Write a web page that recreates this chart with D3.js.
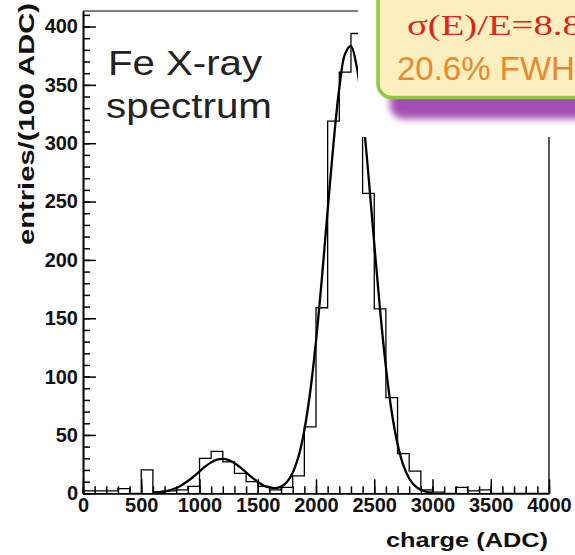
<!DOCTYPE html>
<html>
<head>
<meta charset="utf-8">
<script src="https://cdn.jsdelivr.net/npm/d3@7"></script>
<style>
  html, body { margin: 0; padding: 0; background: #fff; }
  svg { display: block; }
</style>
</head>
<body>
<svg id="chart" width="575" height="555"></svg>
<script>
// Histogram: 40 bins of 100 ADC from 0 to 4000
const binWidth = 100;
const binCounts = [
  2, 2, 2, 4, 0, 20, 1, 2, 3, 6,
  30, 36, 27, 17, 10, 6, 3, 5, 15, 57,
  159, 319, 361, 394, 257, 158, 82, 34, 19, 3,
  1, 0, 5, 2, 3, 0, 0, 0, 0, 0
];

// Fitted curve (two peaks), sampled every 50 ADC
const fitCharge = [
  600, 650, 700, 750, 800, 850, 900, 950, 1000, 1050,
  1100, 1150, 1200, 1250, 1300, 1350, 1400, 1450, 1500, 1550,
  1600, 1650, 1700, 1750, 1800, 1850, 1900, 1950, 2000, 2050,
  2100, 2150, 2200, 2250, 2300, 2350, 2400, 2450, 2500, 2550,
  2600, 2650, 2700, 2750, 2800, 2850, 2900, 2950, 3000
];
const fitCounts = [
  0.4, 0.9, 1.6, 2.8, 4.6, 7.2, 10.5, 14.4, 18.8, 23.0,
  26.5, 28.8, 29.5, 28.5, 25.9, 22.2, 17.9, 13.6, 9.8, 6.6,
  5.0, 4.4, 5.7, 9.7, 17.7, 31.6, 54.1, 86.8, 130.5, 183.8,
  242.4, 299.6, 347.1, 376.8, 383.3, 365.3, 326.2, 272.9, 213.9, 157.1,
  108.2, 69.7, 42.2, 23.9, 12.7, 6.3, 2.9, 1.3, 0.5
];

// Axis ticks
const xMajorTicks = [0, 500, 1000, 1500, 2000, 2500, 3000, 3500, 4000];
const xMinorTicks = d3.range(0, 4001, 100);
const yMajorTicks = [0, 50, 100, 150, 200, 250, 300, 350, 400];
const yMinorTicks = d3.range(0, 411, 10);

const svg = d3.select("#chart");
const plotLeft = 83, plotRight = 549, plotTop = 11, plotBottom = 493.3;

const x = d3.scaleLinear().domain([0, 4000]).range([plotLeft, plotRight]);
const y = d3.scaleLinear().domain([0, 413.3]).range([plotBottom, plotTop]);

// Frame (top and right)
svg.append("line").attr("x1", plotLeft).attr("x2", plotRight).attr("y1", plotTop).attr("y2", plotTop)
  .attr("stroke", "#000").attr("stroke-width", 1);
svg.append("line").attr("x1", plotRight).attr("x2", plotRight).attr("y1", plotTop).attr("y2", plotBottom)
  .attr("stroke", "#000").attr("stroke-width", 1.3);

// Histogram outline as steps
const stepPts = [[0, 0]];
binCounts.forEach((c, i) => {
  stepPts.push([i * binWidth, c]);
  stepPts.push([(i + 1) * binWidth, c]);
});
stepPts.push([binCounts.length * binWidth, 0]);
svg.append("path")
  .attr("d", d3.line().x(d => x(d[0])).y(d => y(d[1]))(stepPts))
  .attr("fill", "none").attr("stroke", "#000").attr("stroke-width", 1.3);

// Fit curve
svg.append("path")
  .datum(fitCharge.map((c, i) => [c, fitCounts[i]]))
  .attr("d", d3.line().x(d => x(d[0])).y(d => y(d[1])).curve(d3.curveCatmullRom))
  .attr("fill", "none").attr("stroke", "#000").attr("stroke-width", 2.3);

// Axes with inward ticks
const tickFont = "'Liberation Sans', Arial, sans-serif";
function styleAxis(g) {
  g.selectAll("text").attr("font-family", tickFont).attr("font-weight", "bold")
    .attr("font-size", 20).attr("fill", "#111");
  g.selectAll("line").attr("stroke", "#000").attr("stroke-width", 1.5);
  g.select(".domain").attr("stroke", "#000").attr("stroke-width", 1.6);
}

svg.append("g").attr("transform", `translate(0,${plotBottom})`)
  .call(d3.axisBottom(x).tickValues(xMinorTicks).tickSizeInner(-7).tickSizeOuter(0).tickFormat(""))
  .call(styleAxis);
svg.append("g").attr("transform", `translate(0,${plotBottom})`)
  .call(d3.axisBottom(x).tickValues(xMajorTicks).tickSizeInner(-14).tickSizeOuter(0).tickPadding(5).tickFormat(d3.format("d")))
  .call(styleAxis);

svg.append("g").attr("transform", `translate(${plotLeft},0)`)
  .call(d3.axisLeft(y).tickValues(yMinorTicks).tickSizeInner(-7).tickSizeOuter(0).tickFormat(""))
  .call(styleAxis);
svg.append("g").attr("transform", `translate(${plotLeft},0)`)
  .call(d3.axisLeft(y).tickValues(yMajorTicks).tickSizeInner(-13).tickSizeOuter(0).tickPadding(5).tickFormat(d3.format("d")))
  .call(styleAxis);

// Axis titles
svg.append("text")
  .attr("transform", "translate(34,245) rotate(-90)")
  .attr("font-family", tickFont).attr("font-weight", "bold").attr("font-size", 22)
  .attr("textLength", 242).attr("lengthAdjust", "spacingAndGlyphs")
  .attr("fill", "#111")
  .text("entries/(100 ADC)");

svg.append("text")
  .attr("x", 548).attr("y", 547).attr("text-anchor", "end")
  .attr("font-family", tickFont).attr("font-weight", "bold").attr("font-size", 20)
  .attr("textLength", 162).attr("lengthAdjust", "spacingAndGlyphs")
  .attr("fill", "#111")
  .text("charge (ADC)");

// In-plot caption
const caption = svg.append("g").attr("font-family", tickFont).attr("font-size", 35).attr("fill", "#222");
caption.append("text").attr("x", 108).attr("y", 75)
  .attr("textLength", 154).attr("lengthAdjust", "spacingAndGlyphs").text("Fe X-ray");
caption.append("text").attr("x", 106).attr("y", 118)
  .attr("textLength", 166).attr("lengthAdjust", "spacingAndGlyphs").text("spectrum");

// Resolution callout
const defs = svg.append("defs");
defs.append("filter").attr("id", "soft").attr("x", "-20%").attr("y", "-20%")
  .attr("width", "140%").attr("height", "140%")
  .append("feGaussianBlur").attr("stdDeviation", 3.5);

svg.append("rect").attr("x", 358).attr("y", 0).attr("width", 217).attr("height", 137)
  .attr("fill", "#fff");
svg.append("rect").attr("x", 390).attr("y", -30).attr("width", 260).attr("height", 149)
  .attr("rx", 14).attr("fill", "#a24db2").attr("filter", "url(#soft)");
svg.append("rect").attr("x", 378).attr("y", -30).attr("width", 240).attr("height", 127.5)
  .attr("rx", 14).attr("fill", "#fcefbf").attr("stroke", "#92c63e").attr("stroke-width", 3.5);

svg.append("text")
  .attr("transform", "translate(407,35) scale(1.29,1)")
  .attr("font-family", "'Liberation Serif', 'Times New Roman', serif")
  .attr("font-size", 30).attr("fill", "#d8281e")
  .text("σ(E)/E=8.8%");
svg.append("text")
  .attr("x", 397).attr("y", 80)
  .attr("font-family", tickFont).attr("font-size", 33).attr("fill", "#e8892b")
  .text("20.6% FWHM");
</script>
</body>
</html>
